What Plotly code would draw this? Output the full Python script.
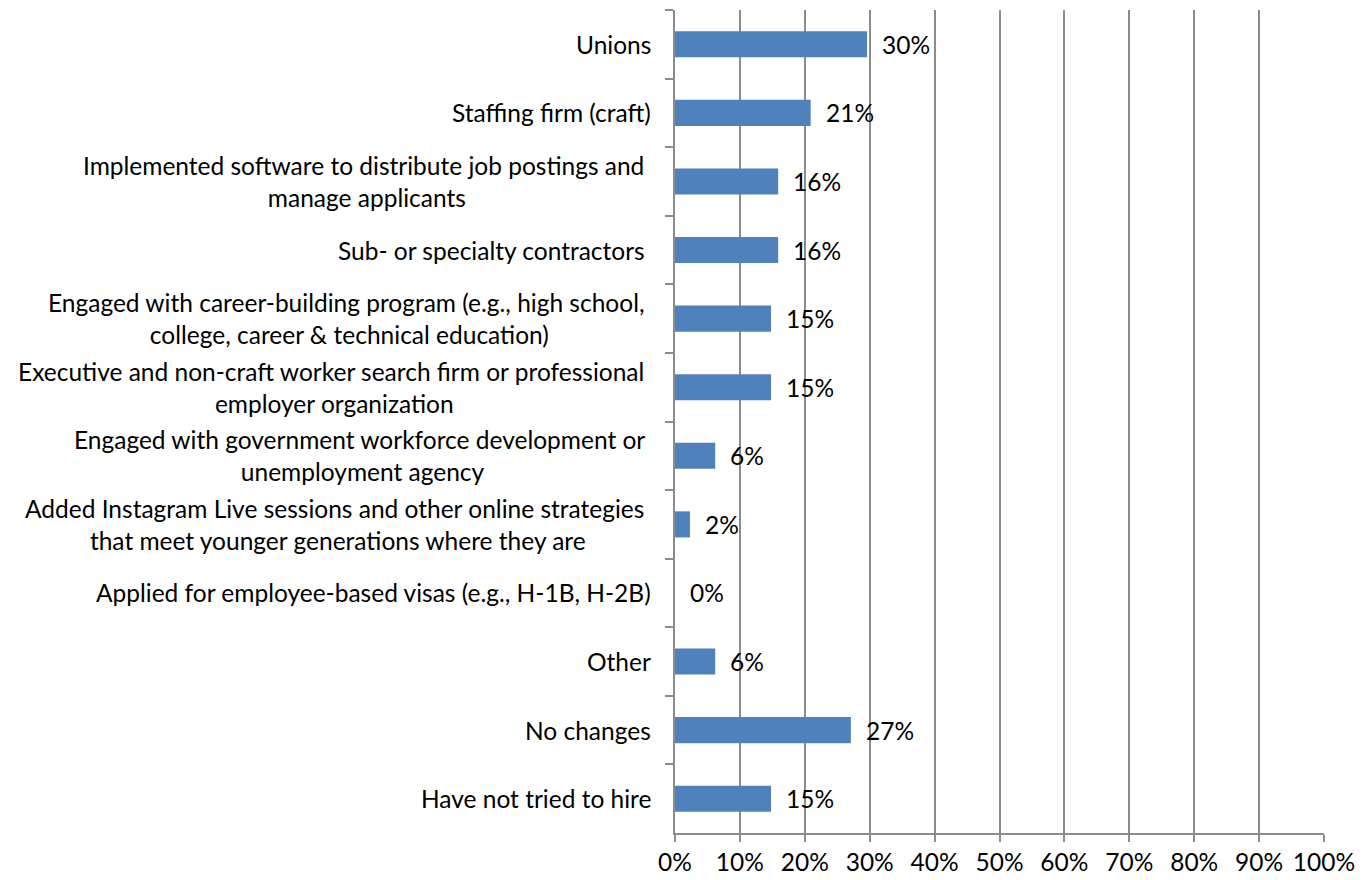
import plotly.graph_objects as go

# Recruiting channels / strategies and share of respondents
categories = [
    "Unions",
    "Staffing firm (craft)",
    "Implemented software to distribute job postings and <br>manage applicants",
    "Sub- or specialty contractors ",
    "Engaged with career-building program (e.g., high school, <br>college, career & technical education)",
    "Executive and non-craft worker search firm or professional <br>employer organization",
    "Engaged with government workforce development or <br>unemployment agency",
    "Added Instagram Live sessions and other online strategies <br>that meet younger generations where they are",
    "Applied for employee-based visas (e.g., H-1B, H-2B)",
    "Other",
    "No changes",
    "Have not tried to hire",
]
shares = [0.296, 0.209, 0.159, 0.159, 0.148, 0.148, 0.062, 0.023, 0.0, 0.062, 0.271, 0.148]
x_ticks = [0, 0.1, 0.2, 0.3, 0.4, 0.5, 0.6, 0.7, 0.8, 0.9, 1.0]

FONT = "Lato"
FSIZE = 24.5
BAR = "#4F81BD"
GRID = "#8C8C8C"

keys = [f"c{i}" for i in range(len(categories))]

fig = go.Figure(
    go.Bar(
        x=shares,
        y=keys,
        orientation="h",
        marker=dict(color=BAR, line=dict(width=0)),
        width=0.38,
        hoverinfo="skip",
    )
)

# value labels to the right of each bar
for k, v in zip(keys, shares):
    fig.add_annotation(
        x=v, y=k, xref="x", yref="y",
        text=f"{round(v * 100):.0f}%",
        showarrow=False, xanchor="left", xshift=13,
        font=dict(family=FONT, size=FSIZE, color="#000000"),
    )

# category labels, centered lines, right-aligned block
for k, c in zip(keys, categories):
    fig.add_annotation(
        x=0, y=k, xref="paper", yref="y",
        text=c, showarrow=False, xanchor="right", align="center",
        xshift=-22,
        font=dict(family=FONT, size=FSIZE, color="#000000"),
    )

fig.update_layout(
    width=1370, height=880,
    margin=dict(l=675, r=46, t=10, b=47, autoexpand=False),
    plot_bgcolor="white", paper_bgcolor="white",
    showlegend=False,
    font=dict(family=FONT, size=FSIZE, color="#000000"),
    xaxis=dict(
        range=[0, 1], tickvals=x_ticks, tickformat=".0%",
        showgrid=True, gridcolor=GRID, gridwidth=1.5,
        showline=True, linecolor=GRID, linewidth=1.5,
        ticks="outside", ticklen=7, tickcolor=GRID, tickwidth=1.5,
        ticklabelstandoff=0,
        zeroline=False, fixedrange=True, automargin=False,
        tickfont=dict(family=FONT, size=FSIZE, color="#000000"),
    ),
    yaxis=dict(
        autorange="reversed",
        showticklabels=False,
        showline=True, linecolor=GRID, linewidth=1.5,
        ticks="outside", ticklen=8, tickcolor=GRID, tickwidth=1.5,
        tickson="boundaries",
        showgrid=False, fixedrange=True, automargin=False,
    ),
)

fig.write_html("out.html")
